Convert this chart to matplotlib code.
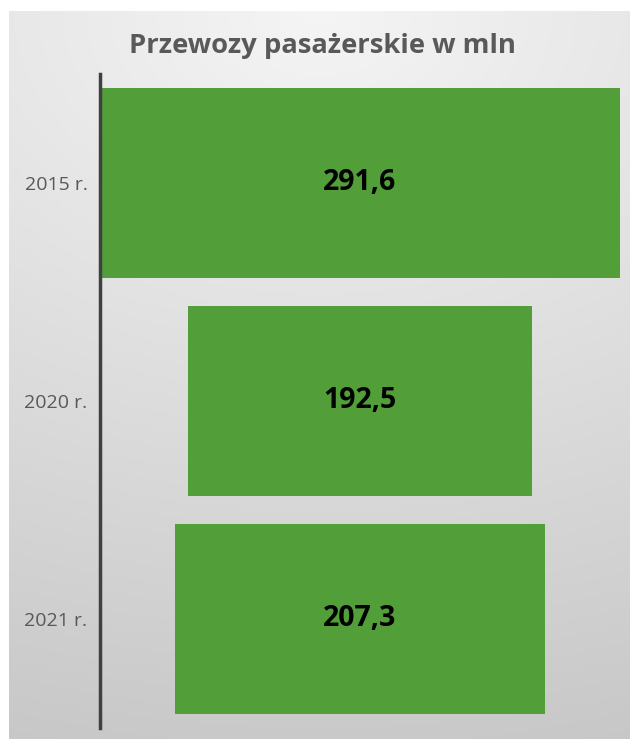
import matplotlib.pyplot as plt
import numpy as np

years = ["2015 r.", "2020 r.", "2021 r."]
values = [291.6, 192.5, 207.3]
value_labels = ["291,6", "192,5", "207,3"]

W, H = 630, 739
fig = plt.figure(figsize=(W / 100, H / 100), dpi=100)
fig.patch.set_facecolor("white")

# gradient background of the chart area
bg = fig.add_axes([9 / W, 0, 621 / W, 728 / H])
yy, xx = np.mgrid[0:1:200j, 0:1:200j]
dist = np.sqrt(((xx - 0.5) * 0.6) ** 2 + yy ** 2)
shade = 0.96 - 0.17 * np.clip(dist, 0, 1.05)
bg.imshow(np.dstack([shade] * 3), aspect="auto", extent=(0, 1, 0, 1), origin="upper")
bg.axis("off")

ax = fig.add_axes([100 / W, (H - 728) / H, 520 / W, 654 / H])
ax.patch.set_alpha(0)
vmax = max(values)
lefts = [(vmax - v) / 2 for v in values]
ax.barh(range(len(years)), values, left=lefts, height=0.867, color="#529f3a")
for i, lab in enumerate(value_labels):
    ax.text(vmax / 2, i, lab, ha="center", va="center", fontsize=20.5,
            fontweight="bold", color="black", family="Open Sans")

ax.set_xlim(0, vmax)
ax.set_ylim(2.5, -0.5)
ax.set_yticks(range(len(years)))
ax.set_yticklabels(years, fontsize=14, color="#595959", family="Open Sans")
ax.tick_params(axis="y", length=0, pad=9)
ax.set_xticks([])
for s in ["top", "right", "bottom"]:
    ax.spines[s].set_visible(False)
ax.spines["left"].set_color("#404040")
ax.spines["left"].set_linewidth(2.5)

fig.text(322 / W, 1 - 46 / H, "Przewozy pasażerskie w mln", ha="center", va="center",
         fontsize=19.7, fontweight="bold", color="#595959", family="Open Sans")

fig.savefig("out.png", dpi=100)
